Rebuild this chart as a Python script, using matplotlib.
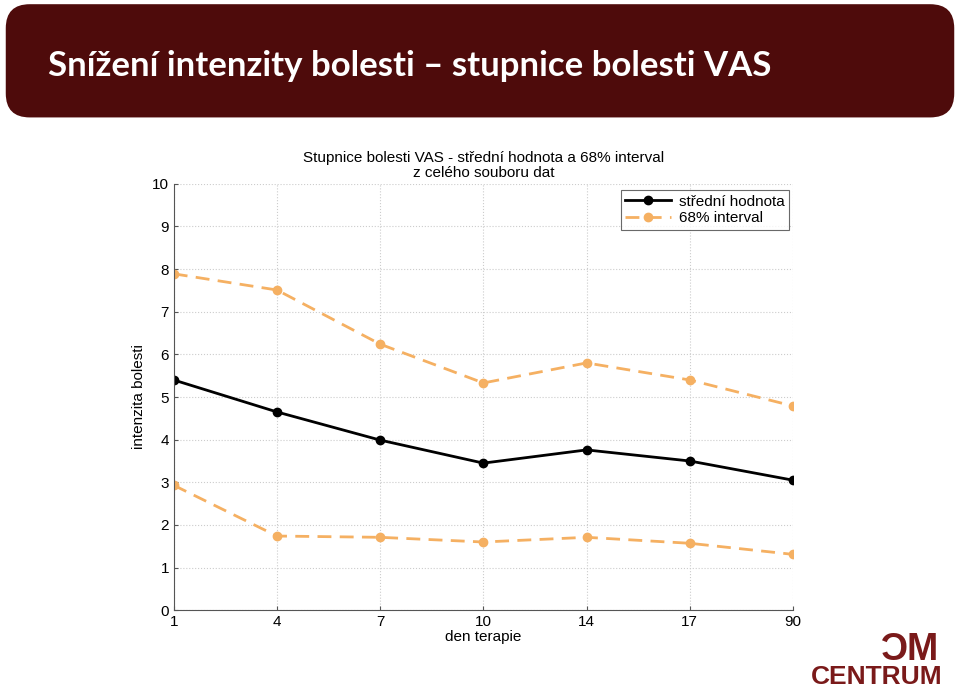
import matplotlib.pyplot as plt
from matplotlib.patches import FancyBboxPatch

# data
days = ["1", "4", "7", "10", "14", "17", "90"]
mean_vals = [5.40, 4.65, 3.99, 3.45, 3.76, 3.50, 3.05]
upper_vals = [7.89, 7.51, 6.24, 5.33, 5.80, 5.40, 4.79]
lower_vals = [2.93, 1.74, 1.71, 1.60, 1.71, 1.57, 1.31]

orange = "#F5B062"
maroon = "#4E0B0B"

plt.rcParams["font.family"] = ["Liberation Sans", "DejaVu Sans"]

fig = plt.figure(figsize=(9.6, 6.99), dpi=100)

# header banner
banner = FancyBboxPatch((0.006, 0.832), 0.988, 0.162,
                        boxstyle="round,pad=0,rounding_size=0.025",
                        transform=fig.transFigure, facecolor=maroon,
                        edgecolor="none", mutation_aspect=960 / 699)
fig.patches.append(banner)
fig.text(0.05, 0.906, "Snížení intenzity bolesti – stupnice bolesti VAS",
         color="white", fontsize=25, fontweight="bold", family="Lato",
         va="center", ha="left")

# logo
fig.text(0.978, 0.07, "ƆM", color="#7A1A1A", fontsize=27, fontweight="bold",
         family="Liberation Sans", ha="right", va="center")
fig.text(0.982, 0.031, "CENTRUM", color="#7A1A1A", fontsize=19, fontweight="bold",
         family="Liberation Sans", ha="right", va="center")

ax = fig.add_axes([0.181, 0.127, 0.645, 0.61])
x = list(range(len(days)))
ax.plot(x, mean_vals, "-o", color="black", lw=2, ms=6, label="střední hodnota")
ax.plot(x, upper_vals, "--o", color=orange, lw=2, ms=6, dashes=(5, 3),
        label="68% interval")
ax.plot(x, lower_vals, "--o", color=orange, lw=2, ms=6, dashes=(5, 3))

ax.set_xlim(0, len(days) - 1)
ax.set_ylim(0, 10)
ax.set_xticks(x)
ax.set_xticklabels(days)
ax.set_yticks(range(0, 11))
ax.tick_params(labelsize=11, length=3, direction="in", color="#555555")
ax.grid(True, linestyle=":", color="#CCCCCC", lw=0.8)
for side in ["top", "right"]:
    ax.spines[side].set_visible(False)
for side in ["left", "bottom"]:
    ax.spines[side].set_color("#555555")

ax.set_xlabel("den terapie", fontsize=11, labelpad=1)
ax.set_ylabel("intenzita bolesti", fontsize=11, labelpad=4)
ax.set_title("Stupnice bolesti VAS - střední hodnota a 68% interval\nz celého souboru dat",
             fontsize=11, pad=5, linespacing=1.05)

leg = ax.legend(loc="upper right", fontsize=11, frameon=True, fancybox=False,
                handlelength=3, borderpad=0.3, labelspacing=0.15,
                handletextpad=0.5, borderaxespad=0,
                bbox_to_anchor=(0.994, 0.985))
leg.get_frame().set_edgecolor("#444444")
leg.get_frame().set_linewidth(0.8)

fig.savefig("out.png", dpi=100)
